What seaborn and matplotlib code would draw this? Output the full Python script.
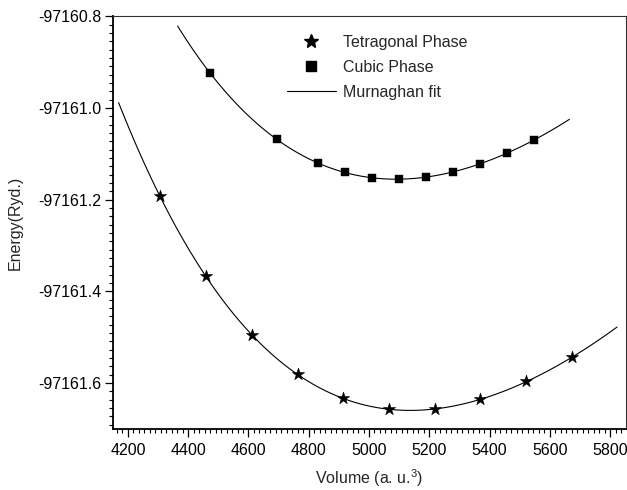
import matplotlib
matplotlib.use("Agg")
import matplotlib.pyplot as plt
from matplotlib.ticker import AutoMinorLocator, FormatStrFormatter
from matplotlib.lines import Line2D
import seaborn as sns
import pandas as pd

# ---- data ----
tet_volume = [4306, 4458, 4611, 4763, 4914, 5066, 5218, 5369, 5522, 5675]
tet_energy = [-97161.193, -97161.367, -97161.494, -97161.581, -97161.632,
              -97161.657, -97161.657, -97161.635, -97161.596, -97161.543]

cub_volume = [4471, 4696, 4830, 4921, 5010, 5099, 5189, 5279, 5368, 5458, 5548]
cub_energy = [-97160.924, -97161.068, -97161.121, -97161.140, -97161.153,
              -97161.156, -97161.150, -97161.140, -97161.122, -97161.098, -97161.070]

# points (including their end points)
tet_fit_volume = [4169] + tet_volume[:6] + [5142] + tet_volume[6:] + [5823]
tet_fit_energy = [-97160.988] + tet_energy[:6] + [-97161.661] + tet_energy[6:] + [-97161.478]
cub_fit_volume = [4365] + cub_volume + [5665]
cub_fit_energy = [-97160.821] + cub_energy + [-97161.025]

labels = ["Tetragonal Phase", "Cubic Phase", "Murnaghan fit"]
x_ticks = [4200, 4400, 4600, 4800, 5000, 5200, 5400, 5600, 5800]
y_ticks = [-97161.6, -97161.4, -97161.2, -97161.0, -97160.8]

sns.set_style("ticks")
plt.rcParams["font.family"] = ["Liberation Sans", "DejaVu Sans"]
plt.rcParams["mathtext.default"] = "regular"

FS = 11.5

fig = plt.figure(figsize=(6.27, 4.90), dpi=100)
ax = fig.add_axes([0.180, 0.1245, 0.818, 0.8425])

tet_fit = pd.DataFrame({"V": tet_fit_volume, "E": tet_fit_energy})
cub_fit = pd.DataFrame({"V": cub_fit_volume, "E": cub_fit_energy})

# fit curves: let seaborn fit the read points, over each curve's own extent
ax.set_xlim(min(tet_fit_volume), max(tet_fit_volume))
sns.regplot(data=tet_fit, x="V", y="E", order=4, ci=None, scatter=False,
            truncate=False, ax=ax, line_kws=dict(color="black", lw=0.8))
ax.set_xlim(min(cub_fit_volume), max(cub_fit_volume))
sns.regplot(data=cub_fit, x="V", y="E", order=4, ci=None, scatter=False,
            truncate=False, ax=ax, line_kws=dict(color="black", lw=0.8))

tet = pd.DataFrame({"V": tet_volume, "E": tet_energy})
cub = pd.DataFrame({"V": cub_volume, "E": cub_energy})
sns.scatterplot(data=tet, x="V", y="E", marker="*", s=85, color="black",
                edgecolor="black", linewidth=0.4, ax=ax, zorder=3)
sns.scatterplot(data=cub, x="V", y="E", marker="s", s=36, color="black",
                edgecolor="black", linewidth=0.3, ax=ax, zorder=3)

ax.set_xlim(4150, 5852)
ax.set_ylim(-97161.70, -97160.80)
ax.set_xticks(x_ticks)
ax.set_yticks(y_ticks)
ax.yaxis.set_major_formatter(FormatStrFormatter("%.1f"))
ax.xaxis.set_minor_locator(AutoMinorLocator(11))
ax.yaxis.set_minor_locator(AutoMinorLocator(11))
ax.tick_params(which="major", direction="out", length=6, width=0.9,
               labelsize=FS, color="black", labelcolor="black")
ax.tick_params(which="minor", direction="out", length=3, width=0.8, color="black")
ax.tick_params(axis="y", which="major", pad=2)
ax.tick_params(axis="x", which="major", pad=4)

for side in ["left", "bottom"]:
    ax.spines[side].set_linewidth(1.3)
    ax.spines[side].set_color("black")
for side in ["top", "right"]:
    ax.spines[side].set_visible(True)
    ax.spines[side].set_linewidth(0.8)
    ax.spines[side].set_color("#333333")
    ax.spines[side].set_linestyle((0, (2.2, 1.0)))

ax.set_xlabel("Volume (a. u.$^{3}$)", fontsize=FS, labelpad=6.5)
ax.set_ylabel("Energy(Ryd.)", fontsize=FS, labelpad=11)

handles = [
    Line2D([], [], ls="none", marker="*", ms=10, color="black"),
    Line2D([], [], ls="none", marker="s", ms=6.5, color="black"),
    Line2D([], [], color="black", lw=0.8),
]
ax.legend(handles, labels, loc="upper left", bbox_to_anchor=(0.339, 0.955),
          frameon=False, fontsize=FS, handlelength=3.1, handletextpad=0.4,
          borderpad=0, borderaxespad=0, labelspacing=0.62)

fig.savefig("out.png", dpi=100)
